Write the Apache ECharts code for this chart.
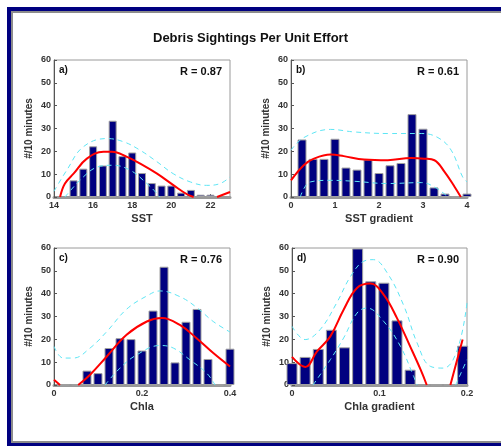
<!DOCTYPE html>
<html><head><meta charset="utf-8">
<script src="https://cdn.jsdelivr.net/npm/echarts@6/dist/echarts.min.js"></script>
<style>html,body{margin:0;padding:0;background:#fff}#c{width:501px;height:446px}</style>
</head><body><div id="c"></div>
<script>
// ---- data ----
const titleText = 'Debris Sightings Per Unit Effort';
const yName = '#/10 minutes';
const yTicks = [0,10,20,30,40,50,60];

// a) SST
const aBinX = [15,15.5,16,16.5,17,17.5,18,18.5,19,19.5,20,20.5,21,21.5,22];
const aCount = [7.3,12.4,22.2,13.8,33.4,17.9,19.5,10.5,6.1,5.0,5.0,1.9,3.1,1.0,1.0];
const aFitX = [14.31,14.56,15.0,15.68,16.53,16.96,17.73,18.41,19.27,20.12,20.8,21.14,null,22.34,23];
const aFitY = [0,5.9,10.2,16.8,19.8,19.8,17.6,14.6,10.2,5.1,1.2,0,null,0,2.2];
const aUpX = [14.0,14.65,15.5,16.7,17.55,18.4,19.27,20.1,20.97,21.8,22.5,23];
const aUpY = [2.5,11.7,22,25.6,24.2,20.5,15.4,10.2,6.6,5.1,5.9,8.8];
const aLoX = [14.56,15.5,16.25,17.0,17.9,18.75,19.27,19.4];
const aLoY = [0,8.8,13.2,13.9,11.7,5.9,1.5,0];
const aTicks = [14,16,18,20,22];

// b) SST gradient
const bBinX = [0.25,0.5,0.75,1,1.25,1.5,1.75,2,2.25,2.5,2.75,3,3.25,3.5,3.75,4];
const bCount = [25.2,16.7,16.7,25.5,12.9,12.0,16.4,10.5,13.9,14.9,36.3,29.9,4.2,1.5,0,1.5];
const bFitX = [0,0.29,0.52,0.9,1.2,1.66,2.2,2.73,3.03,3.26,3.49,3.72,3.86];
const bFitY = [7.3,13.9,16.8,18.6,17.9,16.4,16.1,17.1,16.8,16.1,11,4.4,0];
const bUpX = [0,0.29,0.9,1.43,2.2,2.96,3.34,3.64,3.9,4];
const bUpY = [20.5,26,29.6,28.5,27.8,27.8,26,20.5,8.8,6.6];
const bLoX = [0.21,0.44,0.9,1.43,2.2,2.96,3.26,3.57];
const bLoY = [0,6.6,7.3,6.9,5.9,6.3,4.4,0];
const bTicks = [0,1,2,3,4];

// c) Chla
const cBinX = [0.025,0.05,0.075,0.1,0.125,0.15,0.175,0.2,0.225,0.25,0.275,0.3,0.325,0.35,0.375,0.4];
const cCount = [0,0,6.3,5.2,16.2,20.5,20.1,15.1,32.6,51.8,9.9,27.7,33.3,11.4,0,15.9];
const cFitX = [0,0.0136,null,0.055,0.082,0.12,0.165,0.211,0.245,0.286,0.324,0.362,0.4];
const cFitY = [2.3,0,null,0,4.5,12.5,22,27.8,29.3,26.3,20.5,14,8.1];
const cUpX = [0,0.021,0.044,0.082,0.12,0.165,0.211,0.241,0.286,0.324,0.362,0.4];
const cUpY = [16.9,11.8,11.8,16.2,23.4,33.2,39,41.2,38.7,34,27.8,23.2];
const cLoX = [0.116,0.15,0.188,0.241,0.271,0.309,0.347,0.366];
const cLoY = [0,7.4,13.2,17.3,16.2,11,5.2,0];
const cTicks = [0,0.2,0.4];

// d) Chla gradient
const dBinX = [0,0.015,0.03,0.045,0.06,0.075,0.09,0.105,0.12,0.135,0.15,0.165,0.18,0.195];
const dCount = [9.6,12.3,15.8,24.2,16.5,59.8,45.4,44.8,28.3,6.7,0,0,0,17.2];
const dFitX = [0,0.0152,0.0286,0.0438,0.059,0.0743,0.0895,0.1047,0.12,0.135,0.147,0.154,null,0.181,0.195];
const dFitY = [12.3,7.9,14.7,21.3,33,42.5,44.4,39.6,29.3,16.9,6.7,0,null,0,19.9];
const dUpX = [0,0.015,0.032,0.051,0.067,0.082,0.093,0.109,0.128,0.143,0.158,0.173,0.189,0.2];
const dUpY = [25.7,19.9,24.2,35.9,47.6,54.2,54.9,49,34.5,18.4,8.2,7.4,15.5,36];
const dLoX = [0.024,0.0438,0.059,0.0743,0.0857,0.1047,0.124,0.139,0.143,null,0.187,0.2];
const dLoY = [0,11.1,20.6,31.5,33.7,27.9,16.9,3.8,0,null,0,11.1];
const dTicks = [0,0.1,0.2];

const panels = [
  {tag:'a)', r:'R = 0.87', name:'SST', bx:aBinX, by:aCount, fx:aFitX, fy:aFitY, ux:aUpX, uy:aUpY, lx:aLoX, ly:aLoY, ticks:aTicks, min:14, max:23, bw:8,
   grid:{left:54, top:60, width:176, height:137}},
  {tag:'b)', r:'R = 0.61', name:'SST gradient', bx:bBinX, by:bCount, fx:bFitX, fy:bFitY, ux:bUpX, uy:bUpY, lx:bLoX, ly:bLoY, ticks:bTicks, min:0, max:4, bw:9,
   grid:{left:291, top:60, width:176, height:137}},
  {tag:'c)', r:'R = 0.76', name:'Chla', bx:cBinX, by:cCount, fx:cFitX, fy:cFitY, ux:cUpX, uy:cUpY, lx:cLoX, ly:cLoY, ticks:cTicks, min:0, max:0.4, bw:9,
   grid:{left:54, top:248, width:176, height:137}},
  {tag:'d)', r:'R = 0.90', name:'Chla gradient', bx:dBinX, by:dCount, fx:dFitX, fy:dFitY, ux:dUpX, uy:dUpY, lx:dLoX, ly:dLoY, ticks:dTicks, min:0, max:0.2, bw:11,
   grid:{left:292, top:248, width:175, height:137}}
];

function zip(xs, ys){ return xs.map((x,i)=> x===null ? [null,null] : [x, ys[i]]); }

const FONT = '"Liberation Sans", Arial, sans-serif';
const grids=[], xAxes=[], yAxes=[], series=[], graphics=[];

panels.forEach((p,i)=>{
  grids.push(Object.assign({show:true, borderColor:'#9a9a9a', borderWidth:1, backgroundColor:'#fff'}, p.grid));
  xAxes.push({type:'value', gridIndex:i, min:p.min, max:p.max,
    name:p.name, nameLocation:'middle', nameGap:16,
    nameTextStyle:{fontFamily:FONT, fontWeight:'bold', fontSize:11, color:'#333'},
    axisLine:{show:true, onZero:false, lineStyle:{color:'#999', width:3}},
    axisTick:{show:true, inside:true, length:3, customValues:p.ticks, lineStyle:{color:'#555'}},
    axisLabel:{customValues:p.ticks, margin:4, fontFamily:FONT, fontWeight:'bold', fontSize:9, color:'#333',
      formatter:v=>String(v)},
    splitLine:{show:false}});
  yAxes.push({type:'value', gridIndex:i, min:0, max:60, interval:10,
    name:yName, nameLocation:'middle', nameGap:20, nameRotate:90,
    nameTextStyle:{fontFamily:FONT, fontWeight:'bold', fontSize:10, color:'#333'},
    axisLine:{show:true, lineStyle:{color:'#555', width:1}},
    axisTick:{show:true, inside:true, length:3, lineStyle:{color:'#555'}},
    axisLabel:{margin:3, fontFamily:FONT, fontWeight:'bold', fontSize:9, color:'#333'},
    splitLine:{show:false}});
  series.push({type:'bar', xAxisIndex:i, yAxisIndex:i, data:zip(p.bx,p.by), barWidth:p.bw, clip:true,
    itemStyle:{color:'#000080', borderColor:'#a0a0a0', borderWidth:1}, silent:true, z:2});
  series.push({type:'line', xAxisIndex:i, yAxisIndex:i, data:zip(p.ux,p.uy), smooth:0.4, symbol:'none', clip:true, connectNulls:false,
    lineStyle:{color:'#5ee6f5', width:1, type:[5,4]}, z:3});
  series.push({type:'line', xAxisIndex:i, yAxisIndex:i, data:zip(p.lx,p.ly), smooth:0.4, symbol:'none', clip:true, connectNulls:false,
    lineStyle:{color:'#5ee6f5', width:1, type:[5,4]}, z:3});
  series.push({type:'line', xAxisIndex:i, yAxisIndex:i, data:zip(p.fx,p.fy), smooth:0.4, symbol:'none', clip:true, connectNulls:false,
    lineStyle:{color:'#ff0000', width:2}, z:4});
  const g=p.grid;
  graphics.push({type:'text', left:g.left+5, top:g.top+5, z:10,
    style:{text:p.tag, font:'bold 10px '+FONT, fill:'#111'}});
  graphics.push({type:'text', right:501-(g.left+g.width)+8, top:g.top+6, z:10,
    style:{text:p.r, font:'bold 11px '+FONT, fill:'#111'}});
});

// frame
graphics.push({type:'rect', shape:{x:7,y:7,width:494,height:4}, style:{fill:'#000080'}, z:20});
graphics.push({type:'rect', shape:{x:7,y:7,width:4,height:439}, style:{fill:'#000080'}, z:20});
graphics.push({type:'rect', shape:{x:7,y:443,width:494,height:3}, style:{fill:'#000080'}, z:20});
graphics.push({type:'rect', shape:{x:11,y:11,width:490,height:2}, style:{fill:'#8c8c8c'}, z:20});
graphics.push({type:'rect', shape:{x:11,y:11,width:2,height:432}, style:{fill:'#8c8c8c'}, z:20});
graphics.push({type:'rect', shape:{x:11,y:441,width:490,height:2}, style:{fill:'#8c8c8c'}, z:20});

const chart = echarts.init(document.getElementById('c'), null, {renderer:'canvas'});
chart.setOption({
  backgroundColor:'#fff',
  animation:false,
  title:{text:titleText, left:'center', top:27, itemGap:0,
    textStyle:{fontFamily:FONT, fontWeight:'bold', fontSize:13, color:'#111'}},
  grid:grids, xAxis:xAxes, yAxis:yAxes, series:series, graphic:graphics
});
</script></body></html>
